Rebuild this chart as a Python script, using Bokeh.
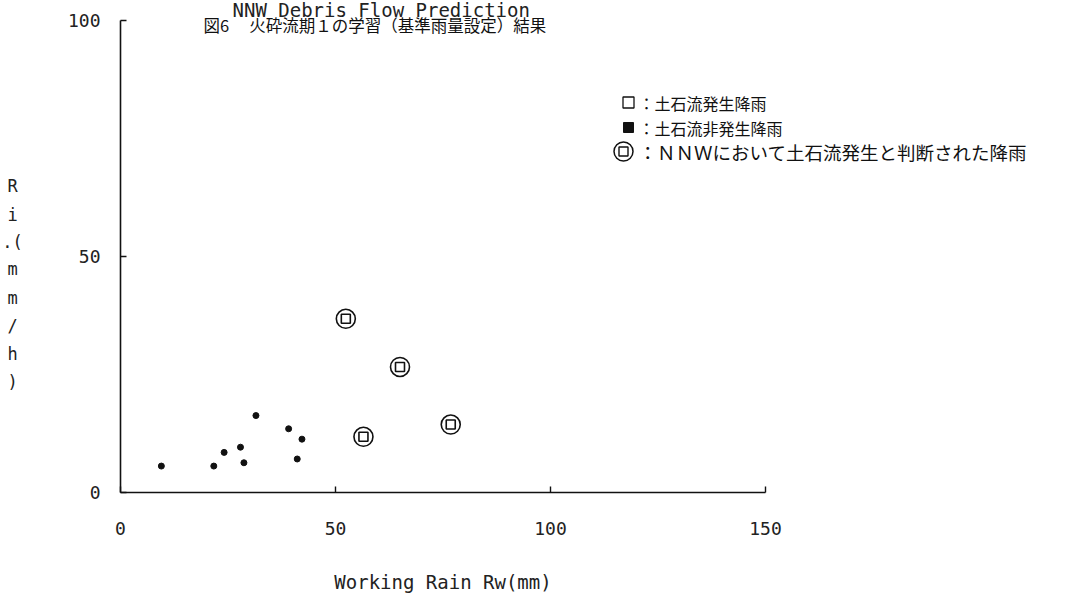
from bokeh.plotting import figure
from bokeh.models import Range1d, FixedTicker, Label, ColumnDataSource
from bokeh.embed import file_html
from bokeh.resources import INLINE

# ---- data ----
occ_x = [52.4, 65.0, 56.5, 76.8]          # rains judged as debris-flow by NNW (occurrence)
occ_y = [36.8, 26.6, 11.8, 14.4]
non_x = [9.5, 21.7, 24.1, 27.9, 28.7, 31.5, 39.1, 42.2, 41.1]   # non-occurrence rains
non_y = [5.6, 5.6, 8.5, 9.6, 6.3, 16.3, 13.5, 11.3, 7.1]
x_ticks = [0, 50, 100, 150]
y_ticks = [0, 50, 100]
legend_texts = ["：土石流発生降雨", "：土石流非発生降雨", "：ＮＮＷにおいて土石流発生と判断された降雨"]
title_en = "NNW  Debris Flow Prediction"
title_jp = "図6　 火砕流期１の学習（基準雨量設定）結果"
xlabel = "Working Rain Rw(mm)"
ylabel_chars = ["R", "i", ".(", "m", "m", "/", "h", ")"]

# ---- layout: the frame covers the whole canvas, axes are fixed at the data origin ----
W, H = 1080, 598
AX_LEFT, AX_RIGHT = 120, 765      # canvas px of x = 0 and x = 150
AX_BOTTOM, AX_TOP = 492, 20       # canvas px of y = 0 and y = 100
sx = (AX_RIGHT - AX_LEFT) / 150.0
sy = (AX_BOTTOM - AX_TOP) / 100.0

def dx(px):
    return (px - AX_LEFT) / sx

def dy(py):
    return (AX_BOTTOM - py) / sy

p = figure(width=W, height=H,
           x_range=Range1d(dx(0), dx(W)), y_range=Range1d(dy(H), dy(0)),
           min_border=0, min_border_left=0, min_border_right=0,
           min_border_top=0, min_border_bottom=0,
           output_backend="svg", toolbar_location=None)
p.outline_line_color = None
p.xgrid.visible = False
p.ygrid.visible = False
p.background_fill_color = "white"
p.border_fill_color = "white"

mono = "DejaVu Sans Mono"
cjk = "Noto Sans CJK JP"
ink = "#111111"
txt = "#222222"

for ax in (p.xaxis[0], p.yaxis[0]):
    ax.fixed_location = 0
    ax.axis_line_color = ink
    ax.axis_line_width = 1.6
    ax.major_tick_line_color = ink
    ax.major_tick_line_width = 1.4
    ax.major_tick_in = 6
    ax.major_tick_out = 0
    ax.minor_tick_line_color = None
    ax.major_label_text_font = mono
    ax.major_label_text_font_size = "18px"
    ax.major_label_text_color = txt

p.xaxis.bounds = (0, 150)
p.yaxis.bounds = (0, 100)
p.xaxis.ticker = FixedTicker(ticks=x_ticks)
p.yaxis.ticker = FixedTicker(ticks=y_ticks)
p.xaxis.major_label_standoff = 29
p.yaxis.major_label_standoff = 20
p.xaxis.axis_label = xlabel
p.xaxis.axis_label_text_font = mono
p.xaxis.axis_label_text_font_size = "19px"
p.xaxis.axis_label_text_font_style = "normal"
p.xaxis.axis_label_text_color = txt
p.xaxis.axis_label_standoff = 33

# data marks
src_non = ColumnDataSource(dict(x=non_x, y=non_y))
src_occ = ColumnDataSource(dict(x=occ_x, y=occ_y))
p.scatter("x", "y", source=src_non, marker="circle", size=6, fill_color=ink, line_color=ink)
p.scatter("x", "y", source=src_occ, marker="circle", size=19, fill_color=None,
          line_color=ink, line_width=1.6)
p.scatter("x", "y", source=src_occ, marker="square", size=9, fill_color=None,
          line_color=ink, line_width=1.6)

# legend symbols (decoration) and texts
rows_py = [102, 127, 151]
p.scatter([dx(628)], [dy(rows_py[0])], marker="square", size=11, fill_color=None,
          line_color=ink, line_width=1.3)
p.scatter([dx(628)], [dy(rows_py[1])], marker="square", size=10, fill_color=ink,
          line_color=ink)
p.scatter([dx(623)], [dy(rows_py[2])], marker="circle", size=19, fill_color=None,
          line_color=ink, line_width=1.5)
p.scatter([dx(623)], [dy(rows_py[2])], marker="square", size=9, fill_color=None,
          line_color=ink, line_width=1.4)
for i, t in enumerate(legend_texts):
    fs = "16px" if i < 2 else "18.5px"
    p.add_layout(Label(x=dx(638), y=dy(rows_py[i]), text=t, text_font=cjk,
                       text_font_size=fs, text_baseline="middle", text_align="left",
                       text_color=ink))

# titles
p.add_layout(Label(x=dx(232), y=dy(9), text=title_en, text_font=mono, text_font_size="19px",
                   text_baseline="alphabetic", text_align="left", text_color=txt))
p.add_layout(Label(x=dx(203), y=dy(24), text=title_jp, text_font=cjk, text_font_size="16.5px",
                   text_baseline="middle", text_align="left", text_color=ink))

# stacked y-axis label
ys = [185, 214, 241, 268, 297, 325, 353, 381]
for ch, py in zip(ylabel_chars, ys):
    p.add_layout(Label(x=dx(12), y=dy(py), text=ch, text_font=mono, text_font_size="17px",
                       text_baseline="middle", text_align="center", text_color=txt))

open("out.html", "w").write(file_html(p, INLINE))
